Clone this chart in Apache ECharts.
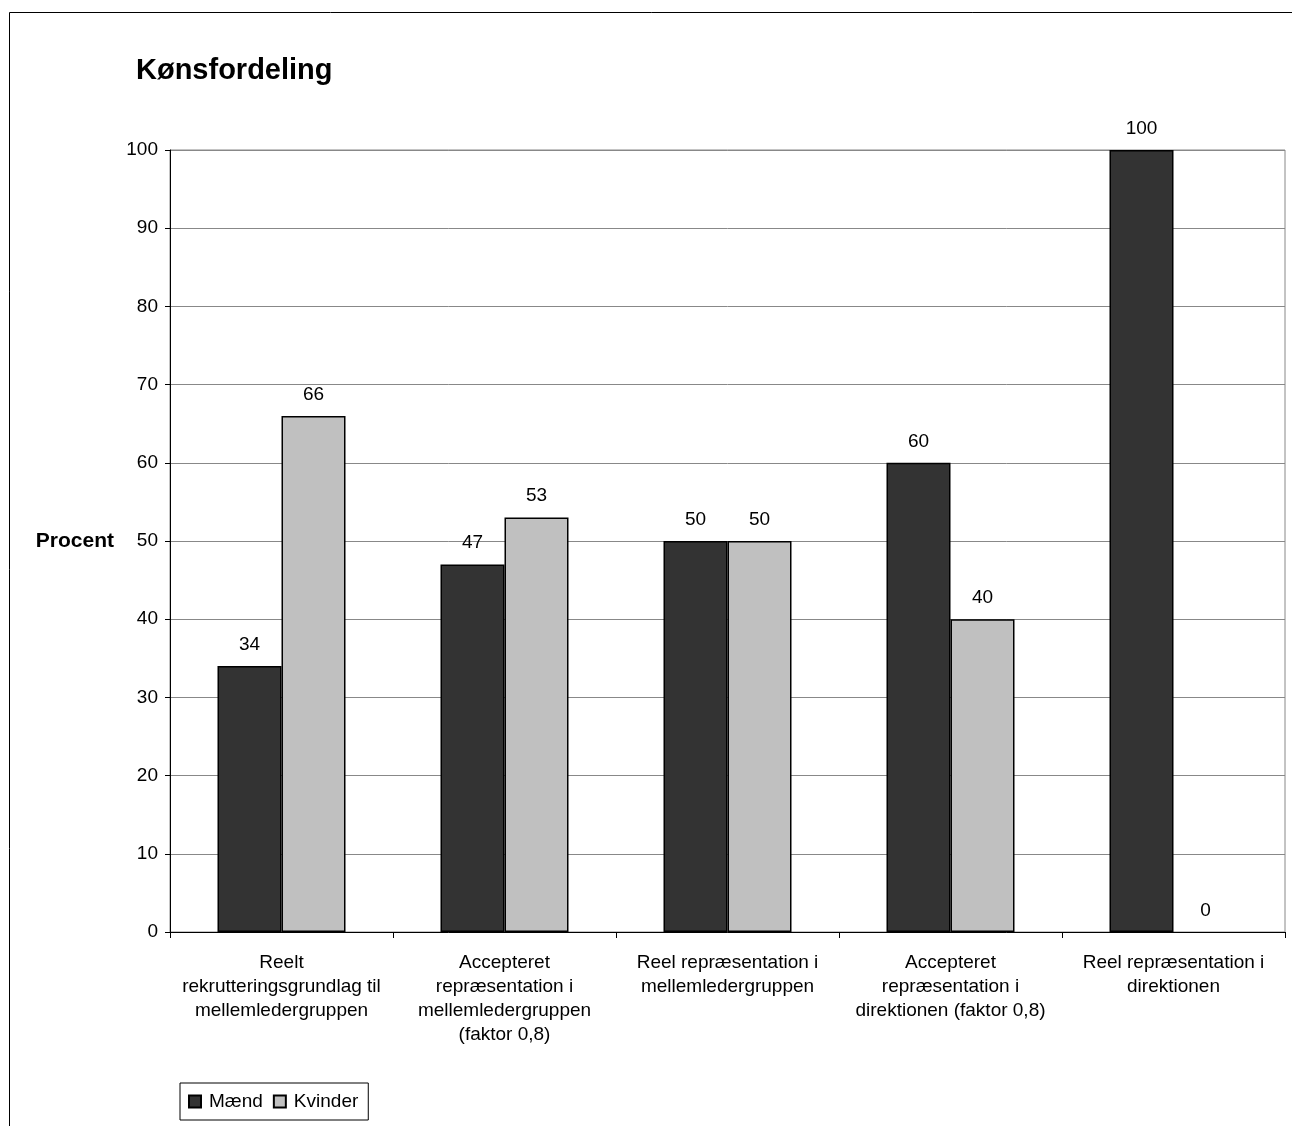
<!DOCTYPE html>
<html><head><meta charset="utf-8">
<script src="https://cdn.jsdelivr.net/npm/echarts@6/dist/echarts.min.js"></script>
<style>html,body{margin:0;padding:0;background:#fff}#c{width:1292px;height:1126px}</style>
</head><body><div id="c"></div>
<script>
const categories = [
  "Reelt\nrekrutteringsgrundlag til\nmellemledergruppen",
  "Accepteret\nrepræsentation i\nmellemledergruppen\n(faktor 0,8)",
  "Reel repræsentation i\nmellemledergruppen",
  "Accepteret\nrepræsentation i\ndirektionen (faktor 0,8)",
  "Reel repræsentation i\ndirektionen"
];
const maend = [34, 47, 50, 60, 100];
const kvinder = [66, 53, 50, 40, 0];
const seriesNames = ["Mænd", "Kvinder"];

const font = "Liberation Sans, Arial, sans-serif";
const fs = 19;
const toItems = arr => arr.map(v => v === 0 ? {value: v, itemStyle: {borderWidth: 0}} : v);
const chart = echarts.init(document.getElementById('c'), null, {renderer: 'canvas'});
const labelCfg = {show: true, position: 'top', distance: 12, color: '#000', fontSize: fs, fontFamily: font};
chart.setOption({
  animation: false,
  backgroundColor: '#fff',
  textStyle: {fontFamily: font},
  title: {text: 'Kønsfordeling', left: 131, top: 51, textStyle: {fontSize: 29, fontWeight: 'bold', color: '#000', fontFamily: font}},
  graphic: [{type: 'rect', shape: {x: 9.5, y: 12.5, width: 1400, height: 1300}, style: {fill: 'none', stroke: '#000', lineWidth: 1}, silent: true, z: -10}],
  legend: {
    data: seriesNames, left: 180, top: 1083, orient: 'horizontal',
    itemWidth: 12, itemHeight: 12, itemGap: 10, icon: 'rect',
    backgroundColor: '#fff', borderColor: '#000', borderWidth: 1, padding: [9, 10, 9, 8],
    textStyle: {fontSize: fs, color: '#000', fontFamily: font, padding: [0, 0, 0, 3]}
  },
  grid: {left: 170, right: 7, top: 150, bottom: 194, show: true, borderColor: '#888', borderWidth: 1},
  xAxis: {
    type: 'category', data: categories,
    axisLine: {lineStyle: {color: '#000', width: 1}},
    axisTick: {show: true, length: 6, lineStyle: {color: '#000'}},
    axisLabel: {fontSize: fs, color: '#000', lineHeight: 24, margin: 19, interval: 0, fontFamily: font}
  },
  yAxis: {
    type: 'value', min: 0, max: 100, interval: 10,
    name: 'Procent', nameLocation: 'middle', nameRotate: 0, nameGap: 56,
    nameTextStyle: {fontSize: 21, fontWeight: 'bold', color: '#000', fontFamily: font},
    axisLine: {show: true, lineStyle: {color: '#000', width: 1}},
    axisTick: {show: true, length: 5, lineStyle: {color: '#000'}},
    axisLabel: {fontSize: fs, color: '#000', margin: 12, fontFamily: font},
    splitLine: {show: true, lineStyle: {color: '#888', width: 1}}
  },
  series: [
    {name: seriesNames[0], type: 'bar', data: toItems(maend), barGap: '0%', barCategoryGap: '42.6%',
     itemStyle: {color: '#333333', borderColor: '#000', borderWidth: 1.5}, label: labelCfg},
    {name: seriesNames[1], type: 'bar', data: toItems(kvinder), barGap: '0%', barCategoryGap: '42.6%',
     itemStyle: {color: '#c0c0c0', borderColor: '#000', borderWidth: 1.5}, label: labelCfg}
  ]
});
</script></body></html>
